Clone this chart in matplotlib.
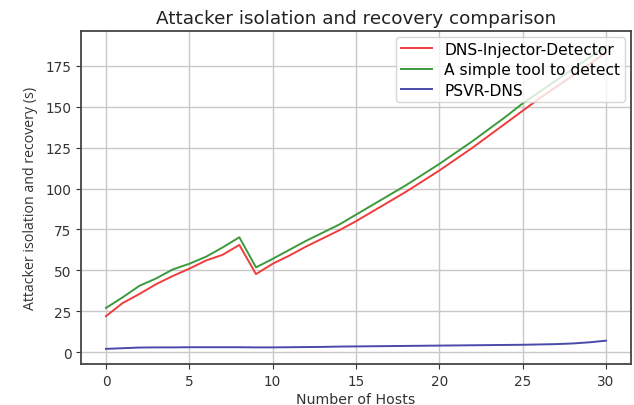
import numpy as np
import matplotlib
matplotlib.use("Agg")
import matplotlib.pyplot as plt

# number of hosts
hosts = list(range(0, 31))

# attacker isolation and recovery time (s)
dns_injector = [22, 30, 35.5, 41.5, 46.5, 51, 56, 59.5, 65.5, 47.7,
                54, 59, 64.5, 69.5, 74.5, 80, 86, 92, 98, 104.5,
                111, 118, 125, 132.5, 140, 147.5, 155, 162, 169, 176, 183]
simple_tool = [27, 33.5, 40.5, 45, 50.5, 54, 58.3, 64, 70.2, 51.8,
               57, 62.5, 68, 73, 78, 84, 90, 96, 102, 108.5,
               115, 122, 129, 136.5, 144, 152, 159, 166, 173, 180, 187]
psvr_dns = [2, 2.4, 2.8, 2.9, 2.9, 3, 3, 3, 3, 2.9,
            2.9, 3, 3.1, 3.2, 3.4, 3.5, 3.6, 3.7, 3.8, 3.9,
            4, 4.1, 4.2, 4.3, 4.4, 4.5, 4.7, 4.9, 5.3, 6, 7]

labels = ["DNS-Injector-Detector", "A simple tool to detect", "PSVR-DNS"]
colors = ["#f03c3c", "#3c9a3c", "#4a4aaa"]

fig = plt.figure(figsize=(6.34, 4.06), dpi=100)
ax = fig.add_axes([81 / 634, 1 - 365 / 406, 550 / 634, 333 / 406])

for series, lab, col in zip([dns_injector, simple_tool, psvr_dns], labels, colors):
    ax.plot(hosts, series, color=col, lw=1.4, label=lab)

ax.grid(True, color="#c8c8c8", lw=1.0)
ax.set_axisbelow(True)
ax.set_xticks(np.arange(0, 31, 5))
ax.set_yticks(np.arange(0, 176, 25))
ax.tick_params(labelsize=9.8, colors="#333333")
for sp in ax.spines.values():
    sp.set_color("#444444")
    sp.set_linewidth(1.3)

ax.set_xlabel("Number of Hosts", fontsize=10.2, color="#333333", labelpad=3)
ax.set_ylabel("Attacker isolation and recovery (s)", fontsize=10.2,
              family="Open Sans", color="#333333", labelpad=5)
ax.set_title("Attacker isolation and recovery comparison", fontsize=13.2,
             color="#222222", pad=6)
ax.legend(loc="upper right", fontsize=11.2, framealpha=0.8, borderaxespad=0.4,
          handlelength=2.0, labelspacing=0.35, borderpad=0.3)

fig.savefig("out.png", dpi=100)
